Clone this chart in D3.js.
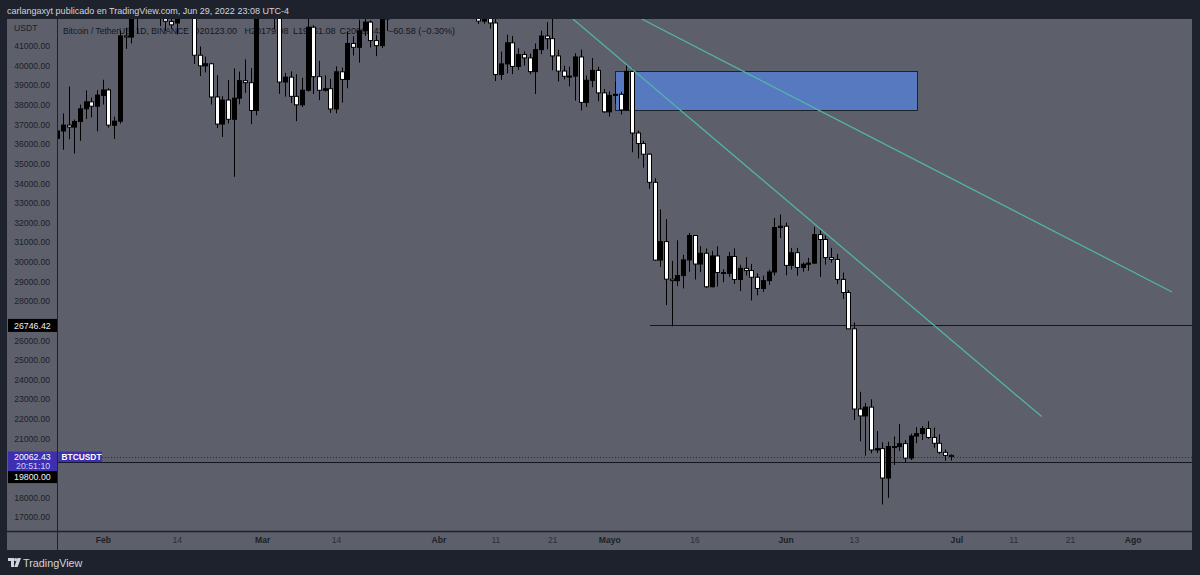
<!DOCTYPE html>
<html>
<head>
<meta charset="utf-8">
<script src="https://cdn.jsdelivr.net/npm/d3@7"></script>
<style>
  body { margin: 0; background: #1e222d; }
  svg { display: block; font-family: "Liberation Sans", Arial, sans-serif; }
</style>
</head>
<body>
<script>
// daily candles BTCUSDT, Jan 24 .. Jun 30 2022
var firstDay = Date.UTC(2022, 0, 24);
var lastDay = Date.UTC(2022, 6, 1);

var opens = [36276.8, 36654.3, 36954, 36852.5, 37138, 37784, 38138, 37917.6,
  38466.9, 38743.8, 36944, 37154.6, 41501, 41441, 42406, 43854, 44096, 44338, 43565, 42380, 42236, 42157, 42586, 44578, 43873, 40515, 39974, 40079, 38386, 37008, 38230, 37250, 38328, 39219, 39116, 37699,
  43160, 44421, 43892, 42454, 39148, 39397, 38420, 37988, 38730, 41941, 39422, 38729, 38807, 37777, 39671, 39281, 41114, 40917, 41757, 42201, 41262, 41002, 42364, 42882, 43991, 44313, 44511, 46827, 47122, 47434, 47068,
  45511, 46283, 45811, 46407, 46580, 45497, 43170, 43444, 42252, 42753, 42158, 39530, 40074, 41147, 39942, 40552, 40378, 39678, 40801, 41494, 41358, 40480, 39709, 39441, 39450, 40426, 38112, 39235, 39742, 38596,
  37630, 38468, 38525, 37728, 39690, 36552, 36013, 35472, 34038, 30076, 31017, 29103, 29030, 29287, 30086, 31328, 29875, 30425, 28716, 30286, 29445, 29400, 30262, 29088, 29655, 29543, 29202, 28630, 29031, 29469, 31734,
  31801, 29805, 30452, 29700, 29864, 29920, 31374, 31125, 30205, 30109, 29092, 28424, 26574, 22485, 22136, 22583, 20400, 20468, 18970, 20574, 20573, 20723, 19988, 21110, 21237, 21491, 21038, 20742, 20281, 20123];

var highs = [37550, 37545, 38919.98, 37234.5, 38000, 38720, 38359, 38744,
  39265, 38834, 37387, 41772, 41913, 42656, 44500, 45492, 44808, 45821, 43920, 43000, 42760, 42876, 44751, 44578, 44164, 40959, 40444, 40125, 39494, 38429, 39249, 39843, 39683, 40300, 39855, 44225,
  44949, 45400, 44101, 42527, 39613, 39693, 39547, 39362, 42594, 42039, 40236, 39486, 39310, 39947, 39887, 41718, 41478, 42325, 42400, 42296, 41544, 43361, 43025, 44220, 45094, 44792, 46999, 48189, 48096, 47700, 47600,
  46720, 47213, 47444, 46890, 47200, 45507, 43900, 43970, 42800, 43420, 42414, 40699, 41561, 41500, 40870, 40709, 40595, 41116, 41760, 42199, 42976, 40795, 39980, 39940, 40616, 40797, 39474, 40372, 39925, 38795,
  38675, 39167, 38650, 40023, 39845, 36675, 36146, 35510, 34243, 32658, 32162, 30032, 31083, 30343, 31460, 31328, 30788, 30666, 30545, 30777, 29607, 30487, 30672, 29840, 30223, 29880, 29400, 29284, 29588, 32222, 32399,
  31982, 30690, 30700, 29955, 30189, 31765, 31589, 31327, 30700, 30392, 29440, 28544, 26895, 23363, 22800, 22980, 21365, 20792, 20815, 21090, 21723, 20900, 21233, 21558, 21614, 21868, 21540, 21200, 20432, 20179.08];

var lows = [32917.2, 35701, 36234.6, 35507, 36155, 37268, 37351, 36632,
  38000, 36832, 36250, 37026.7, 40843, 41116, 41645, 42667, 43117, 43174, 42000, 41748, 41870, 41570, 42428, 43456, 40073, 39450, 39639, 38000, 36800, 36350, 37036, 34322, 38014, 38600, 37000, 37450,
  42809, 43334, 41832, 38550, 38407, 38088, 37155, 37867, 38656, 38539, 38223, 38660, 37578, 37555, 38098, 38828, 40500, 40135, 41499, 40911, 40467, 40875, 41751, 42560, 43579, 44071, 44422, 46663, 46950, 46445, 45200,
  44200, 45620, 45530, 45118, 45353, 43121, 42727, 42107, 42125, 41868, 39200, 39254, 39588, 39551, 39766, 39991, 39546, 38536, 40571, 40820, 39751, 39177, 39285, 38929, 38200, 37702, 37881, 38881, 38175, 37578,
  37386, 38052, 37500, 37671, 35571, 35258, 34785, 33713, 30033, 29730, 27785, 26700, 28751, 28630, 29480, 29087, 29460, 28654, 28691, 28730, 28950, 29227, 28866, 28500, 29295, 28019, 28282, 28450, 28811, 29299, 31200,
  29301, 29594, 29282, 29485, 29531, 29890, 29218, 29844, 29944, 28850, 28099, 26560, 21925, 20846, 20111, 20232, 20246, 17622, 17961, 19637, 20348, 19770, 19890, 20740, 20906, 20970, 20510, 20188, 19854, 19861.08];

var closes = [36654.3, 36954, 36852.5, 37138.2, 37784, 38138, 37917.6, 38483,
  38743.8, 36952.8, 37154.6, 41500, 41441, 42412, 43840, 44118, 44338.8, 43565, 42407, 42244, 42064, 42535, 44544, 43873, 40515, 39974, 40079, 38386, 37008, 38230, 37250, 38327, 39219, 39116, 37700, 43160,
  44421, 43892, 42454, 39148, 39397, 38420, 37988, 38730, 41941, 39422, 38729, 38807, 37777, 39671, 39281, 41114, 40917, 41757, 42201, 41262, 41002, 42364, 42882, 43991, 44313, 44511, 46827, 47122, 47434, 47068, 45511,
  46283, 45811, 46407, 46580, 45497, 43170, 43444, 42252, 42753, 42158, 39530, 40074, 41147, 39942, 40552, 40378, 39678, 40801, 41493, 41358, 40480, 39709, 39441, 39450, 40426, 38112, 39235, 39742, 38596, 37630,
  38468, 38525, 37728, 39690, 36552, 36013, 35472, 34038, 30076, 31017, 29103, 29030, 29287, 30086, 31328, 29875, 30425, 28716, 30286, 29445, 29400, 30262, 29088, 29655, 29543, 29202, 28630, 29031, 29469, 31734, 31801,
  29805, 30452, 29700, 29864, 29920, 31374, 31125, 30205, 30109, 29092, 28424, 26574, 22487, 22136, 22583, 20401, 20468, 18971, 20574, 20573, 20723, 19987, 21110, 21237, 21491, 21038, 20742, 20281, 20123, 20062.43];

// y axis labels and x axis labels
var yTicks = [17000, 18000, 19000, 20000, 21000, 22000, 23000, 24000, 25000, 26000, 27000, 28000, 29000,
  30000, 31000, 32000, 33000, 34000, 35000, 36000, 37000, 38000, 39000, 40000, 41000];
var xTickDates = ["2022-02-01", "2022-02-14", "2022-03-01", "2022-03-14", "2022-04-01", "2022-04-11", "2022-04-21",
  "2022-05-01", "2022-05-16", "2022-06-01", "2022-06-13", "2022-07-01", "2022-07-11", "2022-07-21", "2022-08-01"];
var xTickLabels = ["Feb", "14", "Mar", "14", "Abr", "11", "21", "Mayo", "16", "Jun", "13", "Jul", "11", "21", "Ago"];

// legend parts
var legendParts = ["Bitcoin / TetherUS, 1D, BINANCE", "O20123.00", "H20179.08", "L19861.08", "C20062.43", "\u221260.58 (\u22120.30%)"];

// drawings
var zoneDates = ["2022-05-02T00:00Z", "2022-06-24T00:00Z"];
var zonePrices = [39690, 37728];
var trend1Dates = ["2022-04-24T15:00Z", "2022-07-16T00:00Z"];
var trend1Prices = [42360, 22100];
var trend2Dates = ["2022-05-06T17:00Z", "2022-08-07T22:00Z"];
var trend2Prices = [42360, 28450];
var supportStart = "2022-05-12T00:00Z";
var supportPrice = 26746.42;
var lowLinePrice = 19800;
var lastPrice = 20062.43;
var countdown = "20:51:10";

var width = 1200, height = 575;
var plot = { left: 58, right: 1192, top: 19, bottom: 531 };

var dates = d3.utcDay.range(new Date(firstDay), new Date(lastDay));
var candles = dates.map(function (d, i) {
  return { date: d, o: opens[i], h: highs[i], l: lows[i], c: closes[i] };
});

var xScale = d3.scaleUtc()
  .domain([new Date(Date.UTC(2022, 1, 1)), new Date(Date.UTC(2022, 7, 1))])
  .range([102.8, 1132.7]);
var yScale = d3.scaleLinear()
  .domain([17000, 41000])
  .range([516.7, 45.7]);

var svg = d3.select("body").append("svg")
  .attr("width", width)
  .attr("height", height);

// frame
svg.append("rect").attr("width", width).attr("height", height).attr("fill", "#1e222d");
svg.append("rect").attr("x", 7).attr("y", plot.top).attr("width", plot.right - 7).attr("height", 550 - plot.top).attr("fill", "#5d5f6a");

// legend (under the candles)
var legendX = [63, 192.5, 244.5, 293, 339.5, 388];
svg.selectAll(".legend")
  .data(legendParts)
  .enter()
  .append("text")
  .attr("class", "legend")
  .attr("x", function (d, i) { return legendX[i]; })
  .attr("y", 33.5)
  .attr("fill", "#131722")
  .attr("font-size", 9)
  .attr("textLength", function (d, i) { return i === 0 ? 126 : null; })
  .attr("lengthAdjust", "spacingAndGlyphs")
  .text(function (d) { return d; });

svg.append("defs").append("clipPath").attr("id", "clip")
  .append("rect").attr("x", plot.left).attr("y", plot.top)
  .attr("width", plot.right - plot.left).attr("height", plot.bottom - plot.top);

var g = svg.append("g").attr("clip-path", "url(#clip)");

//水平线
g.append("line")
  .attr("x1", Math.round(xScale(new Date(supportStart))) - 22).attr("x2", plot.right)
  .attr("y1", Math.round(yScale(supportPrice)) + 0.5).attr("y2", Math.round(yScale(supportPrice)) + 0.5)
  .attr("stroke", "#131722").attr("stroke-width", 1);
g.append("line")
  .attr("x1", plot.left).attr("x2", plot.right)
  .attr("y1", Math.round(yScale(lowLinePrice)) + 0.5).attr("y2", Math.round(yScale(lowLinePrice)) + 0.5)
  .attr("stroke", "#131722").attr("stroke-width", 1);
g.append("line")
  .attr("x1", 102).attr("x2", plot.right)
  .attr("y1", Math.round(yScale(lastPrice)) + 0.5).attr("y2", Math.round(yScale(lastPrice)) + 0.5)
  .attr("stroke", "#2a2d38").attr("stroke-width", 1).attr("stroke-dasharray", "1,2");

// zone box
var zx0 = xScale(new Date(zoneDates[0])), zx1 = xScale(new Date(zoneDates[1]));
var zy0 = yScale(zonePrices[0]), zy1 = yScale(zonePrices[1]);
g.append("rect")
  .attr("x", Math.round(zx0) + 0.5).attr("y", Math.round(zy0) + 0.5)
  .attr("width", Math.round(zx1 - zx0)).attr("height", Math.round(zy1 - zy0))
  .attr("fill", "#5679bf").attr("stroke", "#1e222d").attr("stroke-width", 1);

// candles
var bodyW = 4;
var cg = g.selectAll(".candle")
  .data(candles)
  .enter()
  .append("g")
  .attr("class", "candle");

cg.append("line")
  .attr("x1", function (d) { return Math.round(xScale(d.date)) + 0.5; })
  .attr("x2", function (d) { return Math.round(xScale(d.date)) + 0.5; })
  .attr("y1", function (d) { return yScale(d.h); })
  .attr("y2", function (d) { return yScale(d.l); })
  .attr("stroke", "#000")
  .attr("stroke-width", 1);

cg.append("rect")
  .attr("x", function (d) { return Math.round(xScale(d.date)) - bodyW / 2 + 0.5; })
  .attr("y", function (d) { return yScale(Math.max(d.o, d.c)); })
  .attr("width", bodyW)
  .attr("height", function (d) { return Math.max(1, Math.abs(yScale(d.o) - yScale(d.c))); })
  .attr("fill", function (d) { return d.c >= d.o ? "#000" : "#fff"; })
  .attr("stroke", "#000")
  .attr("stroke-width", 1);

// trend lines
[[trend1Dates, trend1Prices], [trend2Dates, trend2Prices]].forEach(function (t) {
  g.append("line")
    .attr("x1", xScale(new Date(t[0][0]))).attr("y1", yScale(t[1][0]))
    .attr("x2", xScale(new Date(t[0][1]))).attr("y2", yScale(t[1][1]))
    .attr("stroke", "#52b3a8").attr("stroke-width", 1.3);
});

// y axis, ticks hidden behind the price labels are dropped
var labelBoxes = [
  [yScale(supportPrice) - 6.5, yScale(supportPrice) + 6.5],
  [yScale(lastPrice) - 5, yScale(lastPrice) + 26.5]
];
var shownTicks = yTicks.filter(function (v) {
  var y = yScale(v);
  return !labelBoxes.some(function (b) { return y > b[0] - 6 && y < b[1] + 6; });
});
var yAxis = d3.axisLeft(yScale).tickValues(shownTicks).tickSize(0).tickPadding(0)
  .tickFormat(d3.format(".2f"));
var ya = svg.append("g").attr("transform", "translate(50,0)").call(yAxis);
ya.select(".domain").remove();
ya.selectAll("text").attr("fill", "#1c1f27").attr("font-size", 8.6)
  .attr("font-family", "Liberation Sans, Arial, sans-serif").attr("dy", "0.34em");
svg.append("text").attr("x", 14).attr("y", 31).text("USDT")
  .attr("fill", "#1c1f27").attr("font-size", 8.6);

// x axis
var xAxis = d3.axisBottom(xScale)
  .tickValues(xTickDates.map(function (s) { return new Date(s + "T00:00Z"); }))
  .tickSize(0).tickPadding(0)
  .tickFormat(function (d, i) { return xTickLabels[i]; });
var xa = svg.append("g").attr("transform", "translate(0,537)").call(xAxis);
xa.select(".domain").remove();
xa.selectAll("text").attr("font-size", 8.6)
  .attr("font-family", "Liberation Sans, Arial, sans-serif")
  .attr("font-weight", function (d, i) { return isNaN(+xTickLabels[i]) ? "bold" : "normal"; })
  .attr("fill", function (d, i) { return isNaN(+xTickLabels[i]) ? "#1c1f27" : "#2c2f38"; });

// panel borders
svg.append("line").attr("x1", 57.5).attr("x2", 57.5).attr("y1", plot.top).attr("y2", 550)
  .attr("stroke", "#1e222d").attr("stroke-width", 1);
svg.append("line").attr("x1", 7).attr("x2", plot.right).attr("y1", 531.5).attr("y2", 531.5)
  .attr("stroke", "#1e222d").attr("stroke-width", 1.5);

// price labels
var ys = yScale(supportPrice);
svg.append("rect").attr("x", 8).attr("y", ys - 6.5).attr("width", 49).attr("height", 13).attr("fill", "#000");
svg.append("text").attr("x", 14).attr("y", ys + 3.2).text(d3.format(".2f")(supportPrice))
  .attr("fill", "#f0f0f0").attr("font-size", 8.8);

var yp = yScale(lastPrice);
svg.append("rect").attr("x", 8).attr("y", yp - 5).attr("width", 49).attr("height", 19.5).attr("fill", "#3d2fae");
svg.append("text").attr("x", 14).attr("y", yp + 3).text(d3.format(".2f")(lastPrice))
  .attr("fill", "#ffffff").attr("font-size", 8.8);
svg.append("text").attr("x", 16).attr("y", yp + 12.5).text(countdown)
  .attr("fill", "#d4ceff").attr("font-size", 8.8);
svg.append("rect").attr("x", 8).attr("y", yp + 14.5).attr("width", 49).attr("height", 12).attr("fill", "#000");
svg.append("text").attr("x", 14).attr("y", yp + 23.7).text(d3.format(".2f")(lowLinePrice))
  .attr("fill", "#f0f0f0").attr("font-size", 8.8);

svg.append("rect").attr("x", 58.5).attr("y", yp - 5).attr("width", 43.5).attr("height", 10.5).attr("fill", "#3d2fae");
svg.append("text").attr("x", 61.5).attr("y", yp + 3.2).text("BTCUSDT")
  .attr("fill", "#ffffff").attr("font-size", 8.4).attr("font-weight", "bold");

// header text
svg.append("text").attr("x", 7).attr("y", 13.5)
  .text("carlangaxyt publicado en TradingView.com, Jun 29, 2022 23:08 UTC-4")
  .attr("fill", "#d1d4dc").attr("font-size", 9.8)
  .attr("textLength", 282).attr("lengthAdjust", "spacingAndGlyphs");

// logo
var logo = svg.append("g").attr("transform", "translate(8,558)").attr("fill", "#d1d4dc");
logo.append("path").attr("d", "M0,0 H6 V9 H3 V3 H0 Z");
logo.append("circle").attr("cx", 7.6).attr("cy", 1.6).attr("r", 1.6);
logo.append("path").attr("d", "M9.5,0 H13 L9.6,9 H6.2 Z");
svg.append("text").attr("x", 23).attr("y", 567).text("TradingView")
  .attr("fill", "#d1d4dc").attr("font-size", 10.8);
</script>
</body>
</html>
